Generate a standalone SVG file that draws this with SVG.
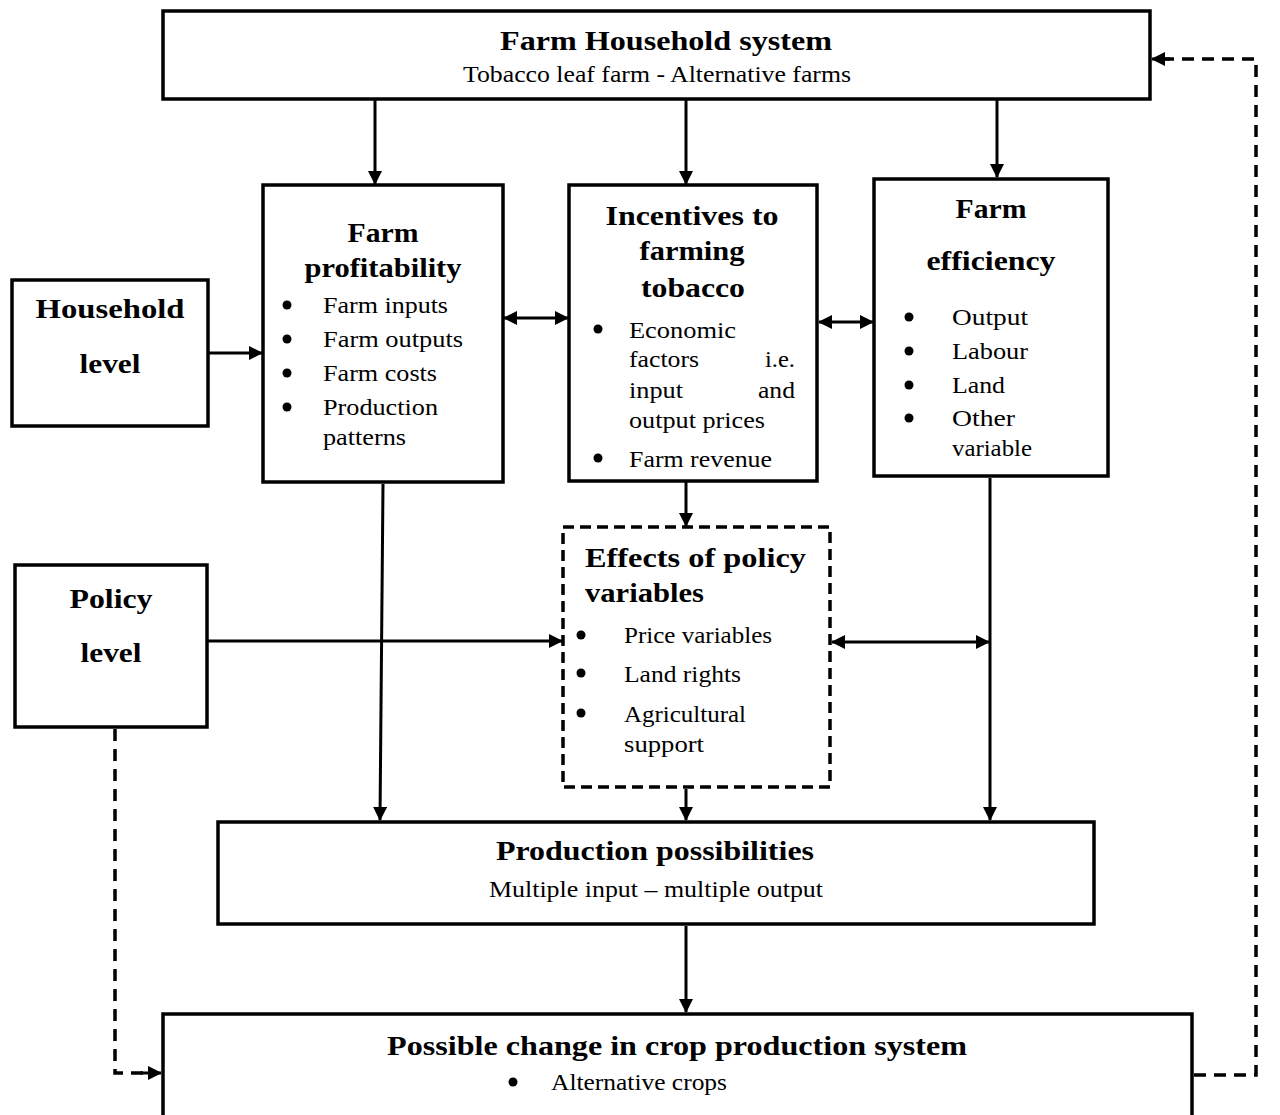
<svg xmlns="http://www.w3.org/2000/svg" width="1280" height="1115" viewBox="0 0 1280 1115">
<defs>
<marker id="ah" viewBox="0 0 14 14" refX="13" refY="7" markerWidth="14" markerHeight="14" markerUnits="userSpaceOnUse" orient="auto-start-reverse">
<path d="M0,0 L14,7 L0,14 Z" fill="#000"/>
</marker>
<style>
.box{fill:#fff;stroke:#000;stroke-width:3.5}
.dbox{fill:#fff;stroke:#000;stroke-width:3.5;stroke-dasharray:11 6}
.ttl{font-family:"Liberation Serif","Times New Roman",serif;font-weight:bold;font-size:28px;fill:#000}
.txt{font-family:"Liberation Serif","Times New Roman",serif;font-size:24px;fill:#000}
.c{text-anchor:middle}
.e{text-anchor:end}
.ln{fill:none;stroke:#000;stroke-width:3}
.dl{fill:none;stroke:#000;stroke-width:3.5;stroke-dasharray:12 8}
.bul{fill:#000}
</style>
</defs>
<rect width="1280" height="1115" fill="#fff"/>

<g id="connectors">
<line class="ln" x1="375" y1="100" x2="375" y2="184" marker-end="url(#ah)"/>
<line class="ln" x1="686" y1="100" x2="686" y2="184" marker-end="url(#ah)"/>
<line class="ln" x1="997" y1="100" x2="997" y2="177" marker-end="url(#ah)"/>
<line class="ln" x1="209" y1="353" x2="262" y2="353" marker-end="url(#ah)"/>
<line class="ln" x1="504" y1="318" x2="568" y2="318" marker-start="url(#ah)" marker-end="url(#ah)"/>
<line class="ln" x1="819" y1="322" x2="873" y2="322" marker-start="url(#ah)" marker-end="url(#ah)"/>
<line class="ln" x1="686" y1="482" x2="686" y2="526" marker-end="url(#ah)"/>
<line class="ln" x1="208" y1="641" x2="562" y2="641" marker-end="url(#ah)"/>
<line class="ln" x1="383" y1="484" x2="380" y2="820" marker-end="url(#ah)"/>
<line class="ln" x1="990" y1="478" x2="990" y2="820" marker-end="url(#ah)"/>
<line class="ln" x1="832" y1="642" x2="989" y2="642" marker-start="url(#ah)" marker-end="url(#ah)"/>
<line class="ln" x1="686" y1="789" x2="686" y2="820" marker-end="url(#ah)"/>
<line class="ln" x1="686" y1="926" x2="686" y2="1012" marker-end="url(#ah)"/>
<path class="dl" d="M115,729 L115,1073 L150,1073"/>
<line class="ln" x1="140" y1="1073" x2="161" y2="1073" marker-end="url(#ah)"/>
<path class="dl" d="M1194,1075 L1256,1075 L1256,59 L1165,59"/>
<line class="ln" x1="1170" y1="59" x2="1152" y2="59" marker-end="url(#ah)"/>
</g>

<g id="farm-household-system">
<rect class="box" x="163" y="11" width="987" height="88"/>
<text class="ttl c" x="666" y="50" textLength="332" lengthAdjust="spacingAndGlyphs">Farm Household system</text>
<text class="txt c" x="657" y="82" textLength="388" lengthAdjust="spacingAndGlyphs">Tobacco leaf farm - Alternative farms</text>
</g>

<g id="household-level">
<rect class="box" x="12" y="280" width="196" height="146"/>
<text class="ttl c" x="110" y="318" textLength="149" lengthAdjust="spacingAndGlyphs">Household</text>
<text class="ttl c" x="110" y="373" textLength="61" lengthAdjust="spacingAndGlyphs">level</text>
</g>

<g id="farm-profitability">
<rect class="box" x="263" y="185" width="240" height="297"/>
<text class="ttl c" x="383" y="242" textLength="71" lengthAdjust="spacingAndGlyphs">Farm</text>
<text class="ttl c" x="383" y="277" textLength="157" lengthAdjust="spacingAndGlyphs">profitability</text>
<circle class="bul" cx="287" cy="305" r="4.5"/>
<circle class="bul" cx="287" cy="339" r="4.5"/>
<circle class="bul" cx="287" cy="373" r="4.5"/>
<circle class="bul" cx="287" cy="407" r="4.5"/>
<text class="txt" x="323" y="313" textLength="125" lengthAdjust="spacingAndGlyphs">Farm inputs</text>
<text class="txt" x="323" y="347" textLength="140" lengthAdjust="spacingAndGlyphs">Farm outputs</text>
<text class="txt" x="323" y="381" textLength="114" lengthAdjust="spacingAndGlyphs">Farm costs</text>
<text class="txt" x="323" y="415" textLength="115" lengthAdjust="spacingAndGlyphs">Production</text>
<text class="txt" x="323" y="445" textLength="83" lengthAdjust="spacingAndGlyphs">patterns</text>
</g>

<g id="incentives">
<rect class="box" x="569" y="185" width="248" height="296"/>
<text class="ttl c" x="692" y="225" textLength="173" lengthAdjust="spacingAndGlyphs">Incentives to</text>
<text class="ttl c" x="692" y="260" textLength="105" lengthAdjust="spacingAndGlyphs">farming</text>
<text class="ttl c" x="693" y="297" textLength="104" lengthAdjust="spacingAndGlyphs">tobacco</text>
<circle class="bul" cx="598" cy="329" r="4.5"/>
<circle class="bul" cx="598" cy="458" r="4.5"/>
<text class="txt" x="629" y="338" textLength="107" lengthAdjust="spacingAndGlyphs">Economic</text>
<text class="txt" x="629" y="367" textLength="70" lengthAdjust="spacingAndGlyphs">factors</text>
<text class="txt e" x="795" y="367" textLength="30" lengthAdjust="spacingAndGlyphs">i.e.</text>
<text class="txt" x="629" y="398" textLength="54" lengthAdjust="spacingAndGlyphs">input</text>
<text class="txt e" x="795" y="398" textLength="37" lengthAdjust="spacingAndGlyphs">and</text>
<text class="txt" x="629" y="428" textLength="136" lengthAdjust="spacingAndGlyphs">output prices</text>
<text class="txt" x="629" y="467" textLength="143" lengthAdjust="spacingAndGlyphs">Farm revenue</text>
</g>

<g id="farm-efficiency">
<rect class="box" x="874" y="179" width="234" height="297"/>
<text class="ttl c" x="991" y="218" textLength="71" lengthAdjust="spacingAndGlyphs">Farm</text>
<text class="ttl c" x="991" y="270" textLength="129" lengthAdjust="spacingAndGlyphs">efficiency</text>
<circle class="bul" cx="909" cy="317" r="4.5"/>
<circle class="bul" cx="909" cy="351" r="4.5"/>
<circle class="bul" cx="909" cy="385" r="4.5"/>
<circle class="bul" cx="909" cy="418" r="4.5"/>
<text class="txt" x="952" y="325" textLength="76" lengthAdjust="spacingAndGlyphs">Output</text>
<text class="txt" x="952" y="359" textLength="76" lengthAdjust="spacingAndGlyphs">Labour</text>
<text class="txt" x="952" y="393" textLength="53" lengthAdjust="spacingAndGlyphs">Land</text>
<text class="txt" x="952" y="426" textLength="63" lengthAdjust="spacingAndGlyphs">Other</text>
<text class="txt" x="952" y="456" textLength="80" lengthAdjust="spacingAndGlyphs">variable</text>
</g>

<g id="effects-of-policy-variables">
<rect class="dbox" x="563" y="527" width="267" height="260"/>
<text class="ttl" x="585" y="567" textLength="221" lengthAdjust="spacingAndGlyphs">Effects of policy</text>
<text class="ttl" x="585" y="602" textLength="119" lengthAdjust="spacingAndGlyphs">variables</text>
<circle class="bul" cx="581" cy="635" r="4.5"/>
<circle class="bul" cx="581" cy="673" r="4.5"/>
<circle class="bul" cx="581" cy="713" r="4.5"/>
<text class="txt" x="624" y="643" textLength="148" lengthAdjust="spacingAndGlyphs">Price variables</text>
<text class="txt" x="624" y="682" textLength="117" lengthAdjust="spacingAndGlyphs">Land rights</text>
<text class="txt" x="624" y="722" textLength="122" lengthAdjust="spacingAndGlyphs">Agricultural</text>
<text class="txt" x="624" y="752" textLength="80" lengthAdjust="spacingAndGlyphs">support</text>
</g>

<g id="policy-level">
<rect class="box" x="15" y="565" width="192" height="162"/>
<text class="ttl c" x="111" y="608" textLength="83" lengthAdjust="spacingAndGlyphs">Policy</text>
<text class="ttl c" x="111" y="662" textLength="61" lengthAdjust="spacingAndGlyphs">level</text>
</g>

<g id="production-possibilities">
<rect class="box" x="218" y="822" width="876" height="102"/>
<text class="ttl c" x="655" y="860" textLength="318" lengthAdjust="spacingAndGlyphs">Production possibilities</text>
<text class="txt c" x="656" y="897" textLength="334" lengthAdjust="spacingAndGlyphs">Multiple input – multiple output</text>
</g>

<g id="possible-change">
<rect class="box" x="163" y="1014" width="1029" height="110"/>
<text class="ttl c" x="677" y="1055" textLength="580" lengthAdjust="spacingAndGlyphs">Possible change in crop production system</text>
<circle class="bul" cx="513" cy="1082" r="4.5"/>
<text class="txt" x="551" y="1090" textLength="176" lengthAdjust="spacingAndGlyphs">Alternative crops</text>
</g>
</svg>
